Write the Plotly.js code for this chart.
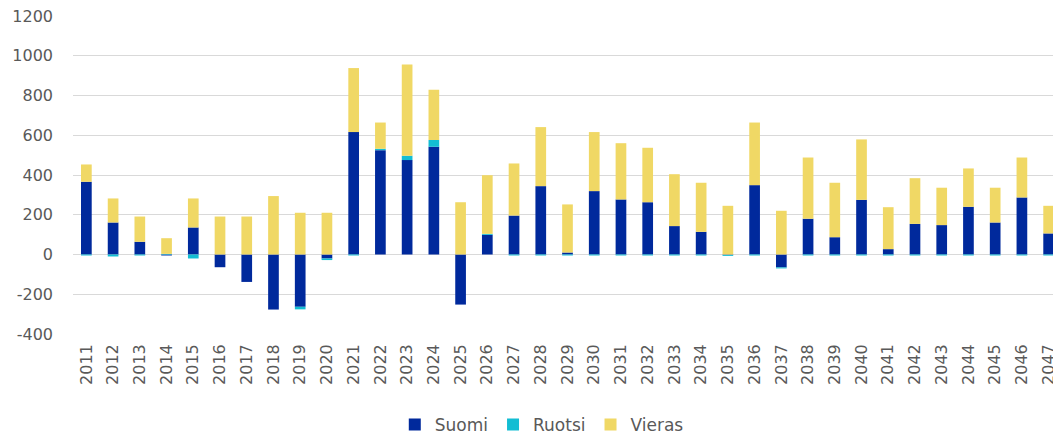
<!DOCTYPE html>
<html>
<head>
<meta charset="utf-8">
<script src="https://cdn.plot.ly/plotly-3.0.1.min.js"></script>
<style>
html,body{margin:0;padding:0;overflow:hidden;background:#fff;width:1053px;height:436px;}
#chart{width:1062px;height:436px;}
</style>
</head>
<body>
<div id="chart"></div>
<script>
const years = ["2011","2012","2013","2014","2015","2016","2017","2018","2019","2020",
"2021","2022","2023","2024","2025","2026","2027","2028","2029","2030",
"2031","2032","2033","2034","2035","2036","2037","2038","2039","2040",
"2041","2042","2043","2044","2045","2046","2047"];
const suomi = [366,161,64,-5,136,-64,-138,-277,-263,-20,
616,525,475,542,-252,99,196,344,10,319,
277,263,143,114,-2,349,-65,180,87,275,
27,154,148,240,161,287,106];
const ruotsi = [-5,-10,-5,3,-20,0,0,0,-13,-8,
-5,7,22,34,0,5,-5,-5,-5,-5,
-5,-5,-5,-5,-5,-5,-5,-5,-5,-5,
-5,-5,-5,-5,-5,-5,-5];
const vieras = [87,121,127,79,146,191,191,294,210,210,
322,132,459,253,263,295,262,297,242,297,
283,274,261,247,245,315,220,308,274,304,
211,230,188,193,175,201,139];
const yTicks = [-400,-200,0,200,400,600,800,1000,1200];

const tickFont = {family:"DejaVu Sans, sans-serif", size:16, color:"#595959"};
const traces = [
  {type:"bar", name:"Suomi", x:years, y:suomi, marker:{color:"#00299C"}},
  {type:"bar", name:"Ruotsi", x:years, y:ruotsi, marker:{color:"#13BDD3"}},
  {type:"bar", name:"Vieras", x:years, y:vieras, marker:{color:"#F0D865"}}
];
const layout = {
  width:1062, height:436,
  margin:{l:73, r:0, t:16, b:102, autoexpand:false},
  barmode:"relative", bargap:0.6,
  paper_bgcolor:"#fff", plot_bgcolor:"#fff",
  showlegend:true,
  legend:{orientation:"h", x:0.474, xanchor:"center", y:-0.286, yanchor:"middle",
    font:{family:"DejaVu Sans, sans-serif", size:17, color:"#595959"}, itemwidth:30, traceorder:"normal"},
  xaxis:{type:"category", range:[-0.5,36.5], tickangle:-90, tickfont:tickFont, automargin:false,
    showgrid:false, showline:false, ticks:"", ticklabelstandoff:6},
  yaxis:{range:[-400,1200], tickvals:yTicks, ticktext:yTicks.map(String), tickfont:tickFont, automargin:false,
    showgrid:true, gridcolor:"#d9d9d9", gridwidth:1, zeroline:false, showline:false, ticks:"",
    ticklabelstandoff:19}
};
Plotly.newPlot("chart", traces, layout, {displayModeBar:false, staticPlot:true});
</script>
</body>
</html>
